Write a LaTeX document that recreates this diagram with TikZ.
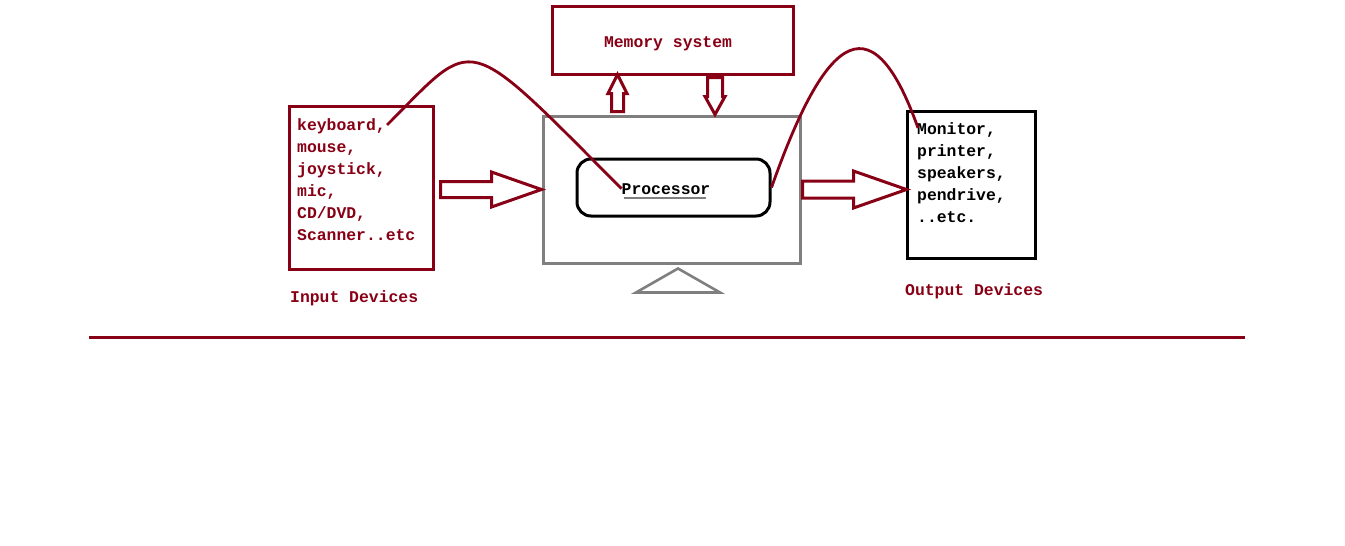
\documentclass[tikz,border=0pt]{standalone}
\usepackage{fontspec}
\setmainfont{Liberation Mono}
\usepackage{xcolor}
\definecolor{pdred}{RGB}{136,0,21}
\definecolor{pdgray}{RGB}{127,127,127}
\usetikzlibrary{calc}
\begin{document}
\begin{tikzpicture}[x=1pt, y=-1pt, font=\bfseries\fontsize{16.4}{22}\selectfont, box/.style={draw=#1, line width=3pt, inner sep=0pt}, txt/.style={inner sep=0pt, align=left, text=#1}, wire/.style={pdred, line width=2.8pt}, blk/.style={draw=pdred, line width=3pt, line join=miter, fill=white}]
\useasboundingbox (0,0) rectangle (1345,546);
\node[box=pdred, minimum width=241pt, minimum height=68pt] (mem) at (672.5,40) {};
\node[txt=pdred, anchor=base] (memtxt) at (668,47) {Memory system};
\node[box=pdred, minimum width=144pt, minimum height=163pt] (inp) at (361,187.5) {};
\node[txt=pdred, anchor=north west] (inptxt) at (297,118) {keyboard,\\mouse,\\joystick,\\mic,\\CD/DVD,\\Scanner..etc};
\node[txt=pdred, anchor=base west] (inplab) at (290,302) {Input Devices};
\node[box=pdgray, minimum width=257pt, minimum height=147pt] (mon) at (671.5,189.5) {};
\node[box=black, rounded corners=14pt, minimum width=193pt, minimum height=57pt] (proc) at (673.5,187.5) {};
\node[txt=black, anchor=base] (ptxt) at (666,194) {Processor};
\node[box=black, minimum width=128pt, minimum height=147pt] (outp) at (971,184.5) {};
\node[txt=black, anchor=north west] (outtxt) at (917,122) {Monitor,\\printer,\\speakers,\\pendrive,\\..etc.};
\node[txt=pdred, anchor=base west] (outlab) at (905,295) {Output Devices};
\coordinate (kbend) at ($(inptxt.north west)+(90,7)$);
\coordinate (monstart) at ($(outtxt.north west)+(1,6)$);
\coordinate (upbase) at ($(mon.north)+(-54,-3)$);
\coordinate (dnbase) at ($(mem.south)+(42.5,2)$);
\coordinate (ruleL) at (89,337);
\coordinate (ruleR) at (1245,337);
\draw[pdgray, line width=2.6pt] ($(mon.south)+(-35.5,28)$) -- ($(mon.south)+(6.5,4)$) -- ($(mon.south)+(48.5,28)$) -- cycle;
\draw[pdgray, line width=2.6pt] ($(ptxt.base west)+(2,4)$) -- ($(ptxt.base east)+(-4,4)$);
\draw[blk] (mon.west) -- ++(-50,-17.5) -- ++(0,9.5) -- ++(-51,0) -- ++(0,16) -- ++(51,0) -- ++(0,9.5) -- cycle;
\draw[blk] (mon.east) ++(1,-8.5) -- ++(51,0) -- ++(0,-10) -- ++(53,18.5) -- ++(-53,18.5) -- ++(0,-10) -- ++(-51,0) -- cycle;
\draw[blk] (upbase) ++(-6,0) -- ++(0,-18) -- ++(-3.5,0) -- ++(9.5,-19) -- ++(9.5,19) -- ++(-3.5,0) -- ++(0,18) -- cycle;
\draw[blk] (dnbase) ++(-7.5,0) -- ++(0,19) -- ++(-2.5,0) -- ++(10,18) -- ++(10,-18) -- ++(-2.5,0) -- ++(0,-19) -- cycle;
\draw[pdred, line width=3pt] (ruleL) -- (ruleR);
\draw[wire] (kbend) .. controls +(90,-90) and +(-159.5,-160) .. (ptxt.west);
\draw[wire] (proc.east) .. controls +(50,-141.5) and +(-49,-138) .. (monstart);
\end{tikzpicture}
\end{document}
